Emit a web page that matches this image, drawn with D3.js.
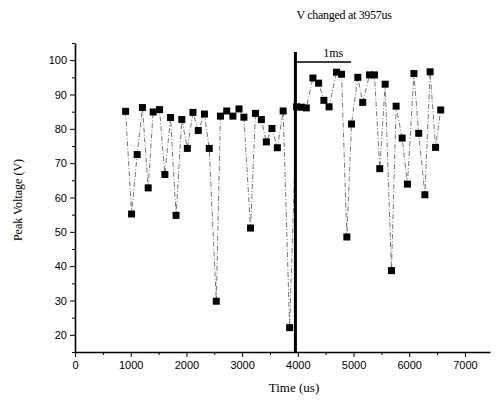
<!DOCTYPE html>
<html>
<head>
<meta charset="utf-8">
<script src="https://cdnjs.cloudflare.com/ajax/libs/d3/7.8.5/d3.min.js"></script>
<style>
  body { margin: 0; background: #fff; }
  .tick text { font-family: "Liberation Sans", Arial, sans-serif; font-size: 11px; }
</style>
</head>
<body>
<div id="chart"></div>
<script>
// data (time in us, peak voltage in V)
let times = [909, 1016, 1116, 1210, 1314, 1403, 1518, 1613, 1715, 1814,
  1918, 2016, 2118, 2213, 2324, 2410, 2536, 2611, 2724, 2835,
  2944, 3032, 3151, 3240, 3346, 3435, 3536, 3633, 3737, 3853,
  3978, 4068, 4152, 4271, 4373, 4468, 4561, 4695, 4785, 4880,
  4964, 5077, 5165, 5287, 5376, 5471, 5568, 5681, 5765, 5873,
  5968, 6084, 6170, 6281, 6375, 6473, 6565];
let volts = [85.1, 55.2, 72.5, 86.2, 62.8, 84.9, 85.6, 66.7, 83.3, 54.8,
  82.7, 74.3, 84.8, 79.5, 84.3, 74.3, 29.8, 83.7, 85.2, 83.7,
  85.8, 83.4, 51.1, 84.5, 82.7, 76.2, 80.1, 74.5, 85.2, 22.1,
  86.4, 86.3, 86.1, 94.8, 93.3, 88.3, 86.4, 96.5, 95.9, 48.5,
  81.4, 95.0, 87.7, 95.7, 95.7, 68.4, 93.0, 38.7, 86.6, 77.3,
  63.9, 96.1, 78.7, 60.8, 96.6, 74.6, 85.5];
let xTicks = [0, 1000, 2000, 3000, 4000, 5000, 6000, 7000];
let yTicks = [20, 30, 40, 50, 60, 70, 80, 90, 100];
let changeTime = 3957;

let serif = "'Liberation Serif', 'Times New Roman', 'DejaVu Serif', serif";

let svgWidth = 499;
let svgHeight = 404;
let margin = { top: 43, right: 9, bottom: 52, left: 75 };
let width = svgWidth - margin.left - margin.right;
let height = svgHeight - margin.top - margin.bottom;

let svg = d3
  .select("#chart")
  .append("svg")
  .attr("width", svgWidth)
  .attr("height", svgHeight);

let chartGroup = svg
  .append("g")
  .attr("transform", `translate(${margin.left}, ${margin.top})`);

let xScale = d3.scaleLinear().domain([0, 7450]).range([0, width]);
let yScale = d3.scaleLinear().domain([15, 105]).range([height, 0]);

// minor ticks first, then the labelled ones
chartGroup
  .append("g")
  .attr("transform", `translate(0, ${height})`)
  .call(d3.axisBottom(xScale).tickValues(d3.range(500, 7450, 1000)).tickSize(3).tickFormat(""))
  .call(g => g.select(".domain").remove());

chartGroup
  .append("g")
  .call(d3.axisLeft(yScale).tickValues(d3.range(15, 106, 10)).tickSize(3).tickFormat(""))
  .call(g => g.select(".domain").remove());

let xAxis = chartGroup
  .append("g")
  .attr("transform", `translate(0, ${height})`)
  .call(d3.axisBottom(xScale).tickValues(xTicks).tickFormat(d3.format("d"))
    .tickSize(5).tickSizeOuter(0).tickPadding(4));

let yAxis = chartGroup
  .append("g")
  .call(d3.axisLeft(yScale).tickValues(yTicks).tickFormat(d3.format("d"))
    .tickSize(5).tickSizeOuter(0).tickPadding(3));

svg.selectAll(".domain").attr("stroke-width", 1.6);

// dashed line joining the points
let points = times.map((t, i) => [t, volts[i]]);
let line = d3.line().x(d => xScale(d[0])).y(d => yScale(d[1]));

chartGroup
  .append("path")
  .datum(points)
  .attr("d", line)
  .attr("fill", "none")
  .attr("stroke", "#666")
  .attr("stroke-width", 0.9)
  .attr("stroke-dasharray", "5,2,1,2");

chartGroup
  .selectAll("rect.pt")
  .data(points)
  .enter()
  .append("rect")
  .attr("class", "pt")
  .attr("x", d => xScale(d[0]) - 3.5)
  .attr("y", d => yScale(d[1]) - 3.5)
  .attr("width", 7)
  .attr("height", 7)
  .attr("fill", "#000");

// marker for the voltage change and the 1ms bracket
chartGroup
  .append("line")
  .attr("x1", xScale(changeTime))
  .attr("x2", xScale(changeTime))
  .attr("y1", yScale(102.4))
  .attr("y2", height)
  .attr("stroke", "#000")
  .attr("stroke-width", 3);

chartGroup
  .append("line")
  .attr("x1", xScale(changeTime))
  .attr("x2", xScale(changeTime + 1000))
  .attr("y1", yScale(99.5))
  .attr("y2", yScale(99.5))
  .attr("stroke", "#000")
  .attr("stroke-width", 1.5);

chartGroup
  .append("text")
  .attr("font-family", serif)
  .attr("x", xScale(changeTime + 680))
  .attr("y", yScale(100.8))
  .attr("text-anchor", "middle")
  .attr("font-size", 12)
  .text("1ms");

svg
  .append("text")
  .attr("font-family", serif)
  .attr("x", 344)
  .attr("y", 19)
  .attr("text-anchor", "middle")
  .attr("font-size", 12)
  .attr("letter-spacing", -0.3)
  .text("V changed at 3957us");

// axis labels
svg
  .append("text")
  .attr("font-family", serif)
  .attr("transform", "rotate(-90)")
  .attr("x", -200)
  .attr("y", 22)
  .attr("text-anchor", "middle")
  .attr("font-size", 12)
  .text("Peak Voltage (V)");

svg
  .append("text")
  .attr("font-family", serif)
  .attr("x", 294)
  .attr("y", 392)
  .attr("text-anchor", "middle")
  .attr("font-size", 13)
  .text("Time (us)");
</script>
</body>
</html>
